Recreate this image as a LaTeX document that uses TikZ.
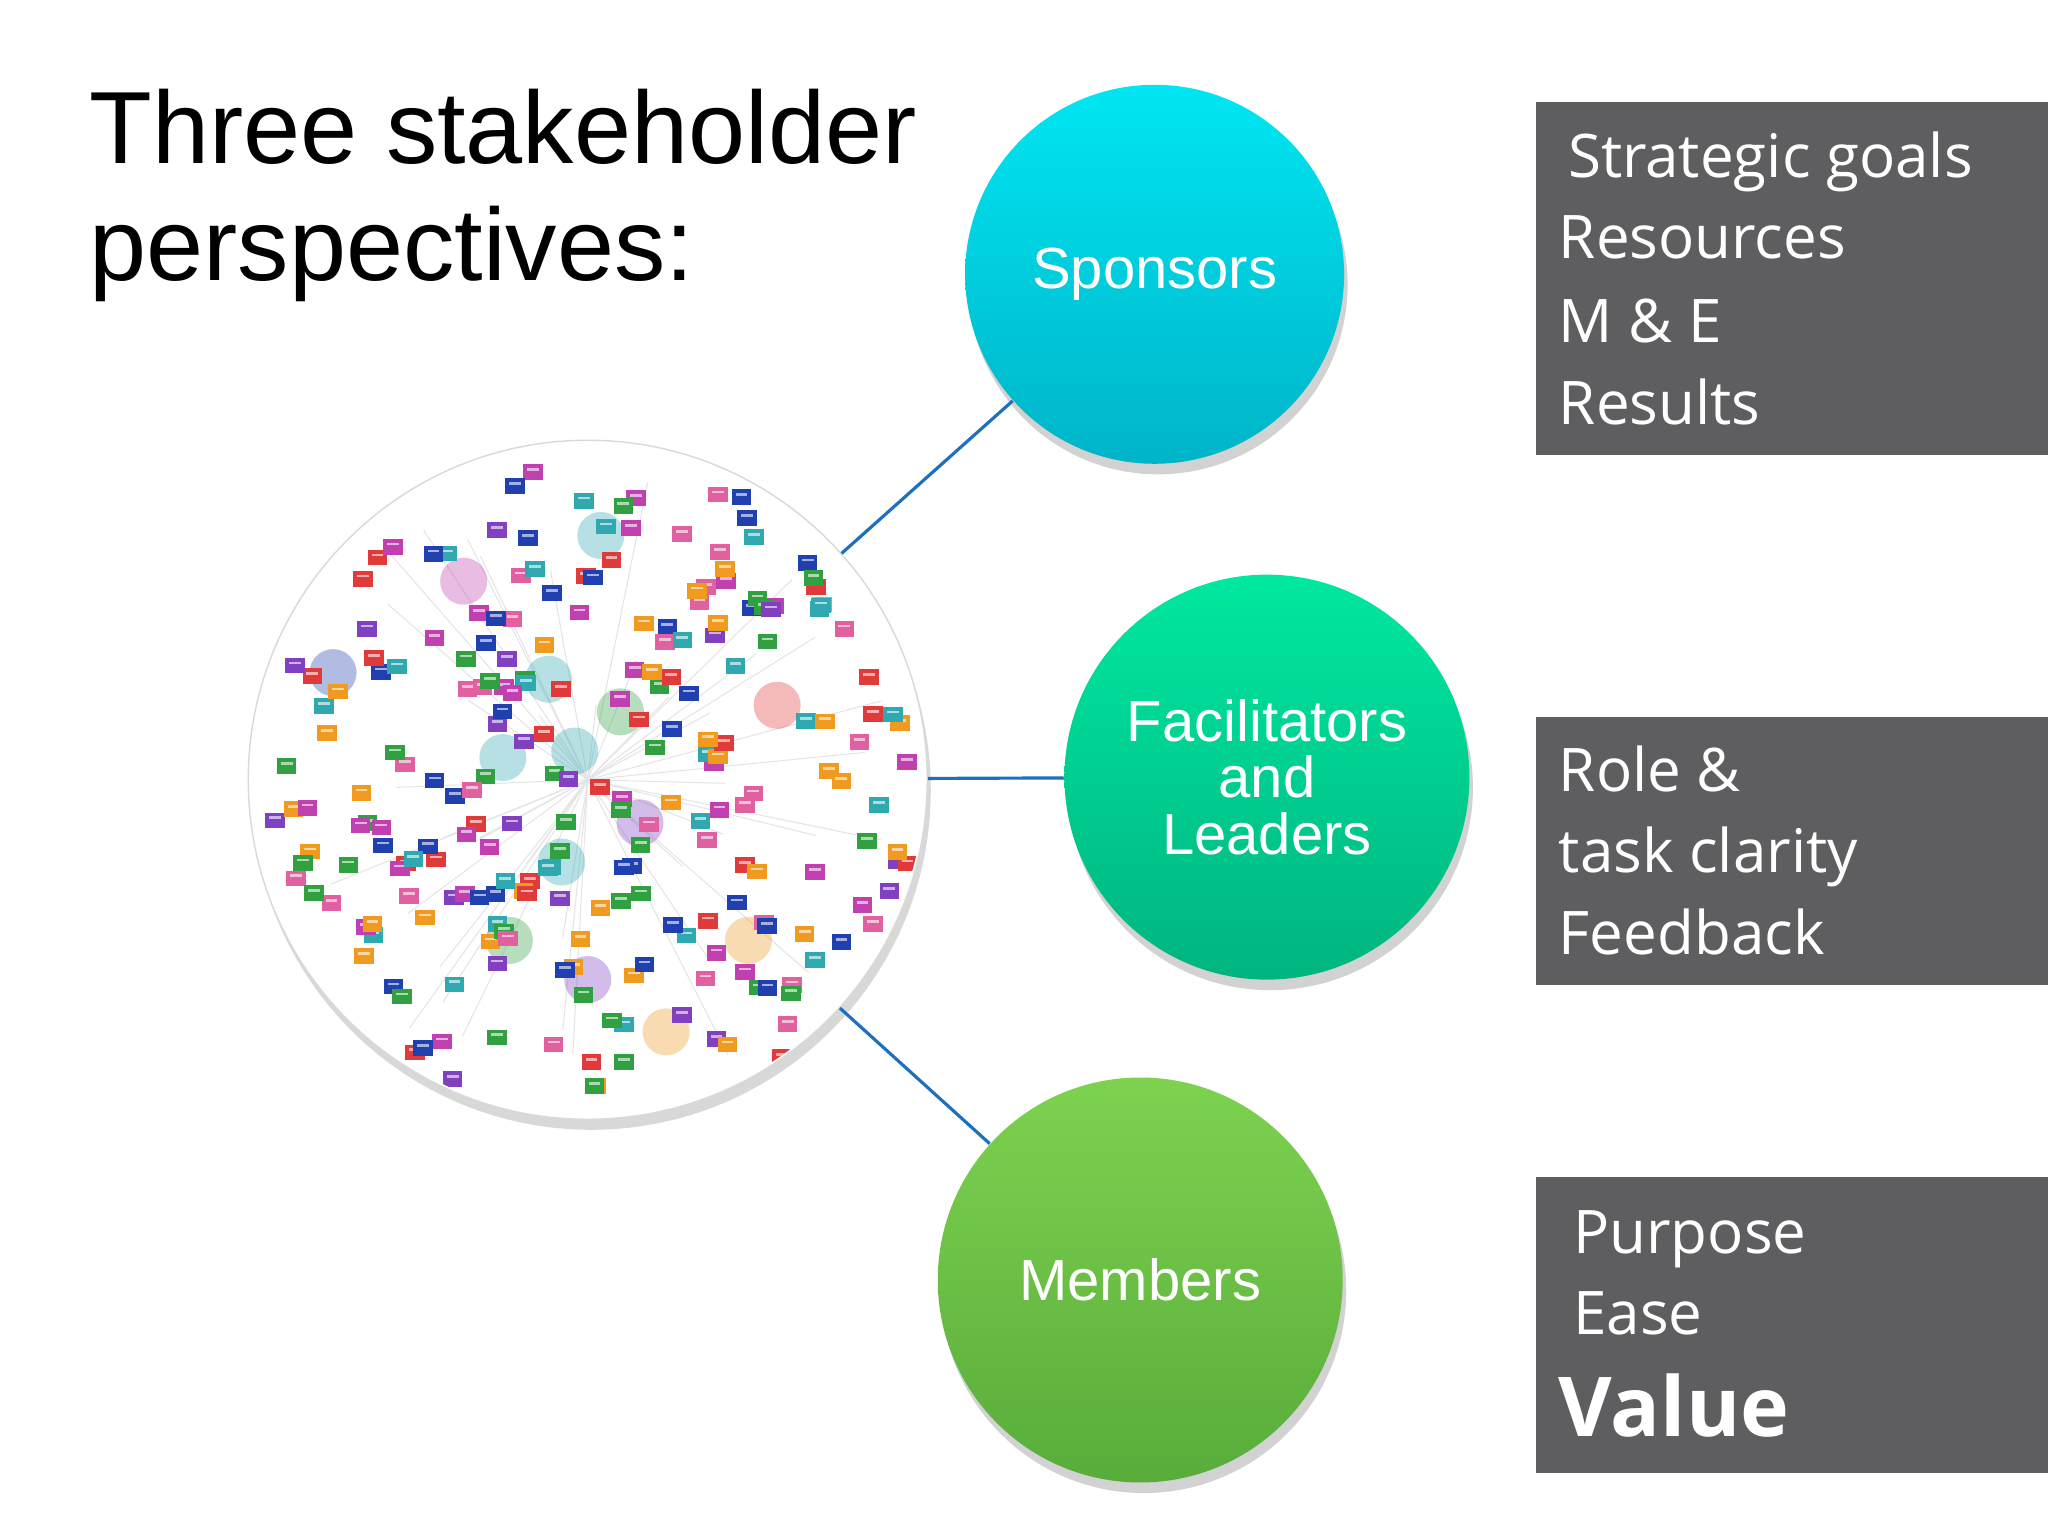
\documentclass[tikz,border=0pt]{standalone}
\usepackage{fontspec}
\setmainfont{Liberation Sans}
\newfontfamily\boxfont{Open Sans}
\usetikzlibrary{shadows}
\definecolor{col1}{HTML}{C040B0}
\definecolor{col2}{HTML}{E03A3A}
\definecolor{col3}{HTML}{2FA8B0}
\definecolor{col4}{HTML}{2040B0}
\definecolor{col5}{HTML}{30A040}
\definecolor{col6}{HTML}{F09A20}
\definecolor{col7}{HTML}{8040C0}
\definecolor{col8}{HTML}{E060A0}
\definecolor{boxgray}{HTML}{5E5E60}
\definecolor{conn}{HTML}{1F6FBF}
\definecolor{cyt}{HTML}{00E6F2}
\definecolor{cyb}{HTML}{00B4C8}
\begin{document}
\begin{tikzpicture}[x=0.013061cm,y=-0.013061cm,
  stake/.style={circle,text=white,font=\fontsize{16.5}{19}\selectfont,align=center,
    drop shadow={opacity=0.35,shadow xshift=1pt,shadow yshift=-3pt}},
  boxtxt/.style={anchor=base west,text=white,inner sep=0pt,font=\boxfont\fontsize{17.1}{20}\selectfont},
  link/.style={draw=conn,line width=0.9pt}]
\useasboundingbox (0,0) rectangle (1568,1176);
\fill[white] (0,0) rectangle (1568,1176);
% title
\node[anchor=base west,inner sep=0pt,font=\fontsize{29.2}{34}\selectfont] (t1) at (68,125) {Three stakeholder};
\node[anchor=base west,inner sep=0pt,font=\fontsize{29.2}{34}\selectfont] (t2) at (68,215) {perspectives:};
% network picture
\node[circle,minimum size=6.79cm,fill=white,draw=gray!30,inner sep=0pt,
  drop shadow={opacity=0.3,shadow xshift=1pt,shadow yshift=-3pt}] (net) at (450,597) {};
\pgfmathsetseed{7}
\begin{scope}
\clip (450,597) circle[radius=258];
\foreach \i in {1,...,40}{
  \pgfmathsetmacro\a{rnd*360}\pgfmathsetmacro\r{sqrt(rnd)*240}
  \draw[gray!20,line width=0.3pt] (450,597) -- ({450+\r*cos(\a)},{597+\r*sin(\a)});
}
\foreach \x/\y/\c in {355/445/col1,460/410/col3,475/545/col5,385/580/col3,440/575/col3,490/630/col7,430/660/col3,595/540/col2,390/720/col5,450/750/col7,573/720/col6,510/790/col6,255/515/col4,420/520/col3}{
  \fill[\c,opacity=0.35] (\x,\y) circle[radius=18];
}
\foreach \i in {1,...,230}{
  \pgfmathsetmacro\a{rnd*360}\pgfmathsetmacro\r{sqrt(rnd)*250}
  \pgfmathtruncatemacro\c{random(1,8)}
  \fill[col\c] ({450+\r*cos(\a)},{597+\r*sin(\a)}) rectangle ++(15,12);
  \fill[white,opacity=0.6] ({453+\r*cos(\a)},{600+\r*sin(\a)}) rectangle ++(9,2);
}
\end{scope}
% stakeholder circles
\node[stake,minimum size=3.79cm,top color=cyt,bottom color=cyb] (sp) at (884,210) {Sponsors};
\node[stake,minimum size=4.05cm,top color={rgb,255:red,0;green,232;blue,160},bottom color={rgb,255:red,0;green,180;blue,128}] (fac) at (970,595) {Facilitators\\[-3pt]and\\[-3pt]Leaders};
\node[stake,minimum size=4.05cm,top color={rgb,255:red,126;green,210;blue,80},bottom color={rgb,255:red,88;green,172;blue,58}] (mem) at (873,980) {Members};
\draw[link] (net) -- (sp);
\draw[link] (net) -- (fac);
\draw[link] (net) -- (mem);
% boxes
\fill[boxgray] (1176,78) rectangle (1568,348);
\fill[boxgray] (1176,549) rectangle (1568,754);
\fill[boxgray] (1176,901) rectangle (1568,1128);
\node[boxtxt] (b1) at (1200,136) {Strategic goals};
\node[boxtxt] (b2) at (1193,198) {Resources};
\node[boxtxt] (b3) at (1193,262) {M \& E};
\node[boxtxt] (b4) at (1193,325) {Results};
\node[boxtxt] (c1) at (1193,606) {Role \&};
\node[boxtxt] (c2) at (1193,668) {task clarity};
\node[boxtxt] (c3) at (1193,731) {Feedback};
\node[boxtxt] (d1) at (1204,960) {Purpose};
\node[boxtxt] (d2) at (1204,1022) {Ease};
\node[boxtxt,font=\boxfont\bfseries\fontsize{23.5}{28}\selectfont] (d3) at (1193,1100) {Value};
\end{tikzpicture}
\end{document}
